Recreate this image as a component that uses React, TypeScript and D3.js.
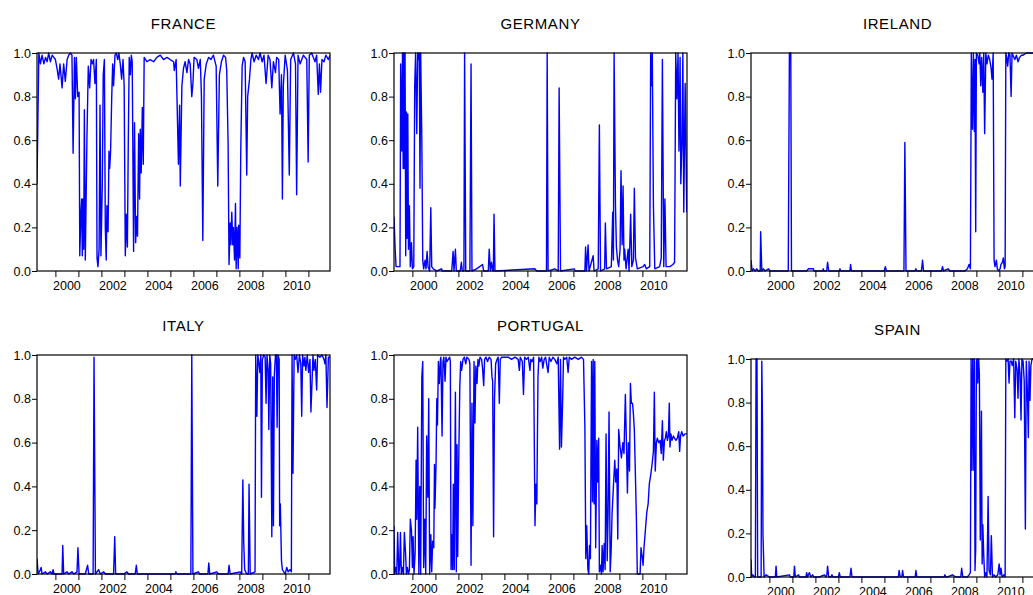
import React, { useRef, useEffect } from 'react'
import * as d3 from 'd3'

type Pt = [number, number] // [decimal year, probability]

// smoothed regime probabilities
const FRANCE: Pt[] = [
  [1999.2, 0.4], [1999.28, 1.0], [1999.35, 0.95], [1999.42, 0.99], [1999.5, 0.95], [1999.57, 0.98],
  [1999.64, 0.96], [1999.71, 1.0], [1999.78, 0.96], [1999.86, 0.99], [2000.0, 0.97], [2000.07, 0.93],
  [2000.14, 0.88], [2000.2, 0.95], [2000.29, 0.84], [2000.36, 0.95], [2000.43, 0.87], [2000.51, 0.97],
  [2000.58, 0.99], [2000.65, 1.0], [2000.72, 0.99], [2000.77, 0.54], [2000.83, 0.98], [2000.87, 0.79],
  [2000.91, 0.98], [2000.97, 0.8], [2001.03, 0.82], [2001.06, 0.07], [2001.11, 0.27], [2001.14, 0.33],
  [2001.17, 0.07], [2001.2, 0.33], [2001.23, 0.1], [2001.26, 0.74], [2001.3, 0.05], [2001.37, 0.6],
  [2001.43, 0.94], [2001.49, 0.84], [2001.55, 0.97], [2001.61, 0.95], [2001.66, 0.97], [2001.72, 0.86],
  [2001.78, 0.97], [2001.81, 0.06], [2001.85, 0.02], [2001.9, 0.1], [2001.94, 0.76], [2001.98, 0.07],
  [2002.04, 0.4], [2002.08, 0.9], [2002.13, 0.97], [2002.17, 0.2], [2002.21, 0.05], [2002.24, 0.3],
  [2002.29, 0.18], [2002.33, 0.55], [2002.36, 0.47], [2002.4, 0.55], [2002.45, 0.8], [2002.49, 0.95],
  [2002.53, 0.85], [2002.59, 0.99], [2002.65, 1.0], [2002.71, 0.97], [2002.76, 1.0], [2002.82, 0.95],
  [2002.88, 0.88], [2002.94, 0.97], [2002.99, 0.85], [2003.04, 0.07], [2003.08, 0.26], [2003.13, 0.11],
  [2003.17, 0.6], [2003.21, 0.98], [2003.26, 0.9], [2003.3, 0.99], [2003.34, 0.96], [2003.4, 0.09],
  [2003.44, 0.68], [2003.49, 0.13], [2003.53, 0.25], [2003.57, 0.16], [2003.62, 0.63], [2003.66, 0.33],
  [2003.69, 0.65], [2003.73, 0.45], [2003.78, 0.75], [2003.82, 0.49], [2003.86, 0.98], [2003.98, 0.96],
  [2004.12, 0.97], [2004.27, 0.96], [2004.41, 0.98], [2004.56, 0.99], [2004.7, 0.97], [2004.85, 0.98],
  [2004.99, 0.97], [2005.14, 0.96], [2005.17, 0.92], [2005.25, 0.97], [2005.35, 0.49], [2005.4, 0.76],
  [2005.43, 0.39], [2005.5, 0.85], [2005.57, 0.93], [2005.64, 0.96], [2005.72, 0.91], [2005.79, 0.97],
  [2005.86, 0.95], [2005.93, 0.8], [2005.98, 0.86], [2006.03, 0.98], [2006.15, 0.97], [2006.22, 0.93],
  [2006.3, 0.97], [2006.35, 0.8], [2006.41, 0.14], [2006.47, 0.88], [2006.56, 0.95], [2006.66, 0.98],
  [2006.76, 0.97], [2006.87, 0.99], [2006.99, 0.94], [2007.06, 0.39], [2007.13, 0.9], [2007.22, 0.96],
  [2007.31, 0.99], [2007.4, 0.98], [2007.45, 0.92], [2007.51, 0.58], [2007.55, 0.03], [2007.6, 0.22],
  [2007.63, 0.12], [2007.67, 0.27], [2007.71, 0.12], [2007.74, 0.2], [2007.79, 0.05], [2007.83, 0.31],
  [2007.86, 0.01], [2007.9, 0.2], [2007.95, 0.01], [2007.97, 0.21], [2008.02, 0.06], [2008.06, 0.55],
  [2008.12, 0.94], [2008.18, 0.98], [2008.25, 0.96], [2008.32, 0.44], [2008.36, 0.8], [2008.44, 0.88],
  [2008.5, 0.97], [2008.55, 1.0], [2008.64, 0.96], [2008.73, 0.99], [2008.83, 0.97], [2008.9, 1.0],
  [2008.99, 0.96], [2009.07, 0.99], [2009.16, 0.86], [2009.25, 0.99], [2009.33, 0.97], [2009.41, 0.84],
  [2009.48, 0.96], [2009.57, 0.91], [2009.62, 0.98], [2009.71, 0.97], [2009.77, 0.72], [2009.83, 0.9],
  [2009.87, 0.33], [2009.91, 0.85], [2009.99, 0.99], [2010.09, 0.92], [2010.17, 0.44], [2010.23, 0.97],
  [2010.35, 1.0], [2010.44, 0.95], [2010.49, 0.35], [2010.55, 0.99], [2010.64, 0.95], [2010.78, 0.99],
  [2010.93, 0.97], [2010.99, 0.5], [2011.04, 0.99], [2011.14, 1.0], [2011.29, 0.96], [2011.36, 0.99],
  [2011.43, 0.81], [2011.48, 0.95], [2011.53, 0.82], [2011.59, 0.97], [2011.68, 0.96], [2011.76, 0.99],
  [2011.87, 0.97], [2011.94, 0.99],
]

const GERMANY: Pt[] = [
  [1999.2, 0.25], [1999.25, 0.1], [1999.29, 0.02], [1999.39, 0.02], [1999.46, 0.02], [1999.49, 0.95],
  [1999.54, 0.55], [1999.57, 1.0], [1999.6, 0.47], [1999.62, 1.0], [1999.65, 0.47], [1999.68, 1.0],
  [1999.71, 0.07], [1999.74, 0.73], [1999.77, 0.15], [1999.8, 0.72], [1999.83, 0.1], [1999.87, 0.3],
  [1999.91, 0.02], [1999.96, 0.13], [2000.0, 0.01], [2000.06, 0.02], [2000.1, 0.85], [2000.14, 1.0],
  [2000.19, 0.63], [2000.23, 1.0], [2000.26, 0.97], [2000.3, 1.0], [2000.33, 0.38], [2000.36, 1.0],
  [2000.41, 0.6], [2000.45, 0.05], [2000.49, 0.01], [2000.55, 0.05], [2000.59, 0.01], [2000.64, 0.09],
  [2000.68, 0.02], [2000.75, 0.0], [2000.8, 0.29], [2000.84, 0.02], [2000.91, 0.01], [2001.06, 0.0],
  [2001.27, 0.01], [2001.3, 0.0], [2001.71, 0.0], [2001.77, 0.09], [2001.81, 0.0], [2001.87, 0.1],
  [2001.91, 0.0], [2002.08, 0.0], [2002.13, 0.04], [2002.17, 0.0], [2002.24, 0.0], [2002.27, 1.0],
  [2002.32, 0.0], [2002.5, 0.0], [2002.55, 0.95], [2002.59, 0.0], [2002.79, 0.01], [2003.05, 0.03],
  [2003.1, 0.0], [2003.3, 0.0], [2003.34, 0.1], [2003.39, 0.0], [2003.44, 0.04], [2003.49, 0.0],
  [2003.52, 0.0], [2003.55, 0.26], [2003.59, 0.0], [2005.33, 0.01], [2005.4, 0.0], [2005.83, 0.0],
  [2005.86, 1.0], [2005.9, 0.0], [2006.19, 0.01], [2006.34, 0.0], [2006.38, 0.84], [2006.44, 0.0],
  [2007.03, 0.01], [2007.09, 0.0], [2007.5, 0.0], [2007.53, 0.11], [2007.57, 0.0], [2007.64, 0.12],
  [2007.68, 0.0], [2007.86, 0.07], [2007.9, 0.0], [2008.08, 0.01], [2008.13, 0.67], [2008.18, 0.0],
  [2008.36, 0.01], [2008.39, 0.22], [2008.44, 0.01], [2008.65, 0.02], [2008.71, 0.27], [2008.74, 0.05],
  [2008.77, 1.0], [2008.83, 0.3], [2008.87, 0.11], [2008.92, 0.05], [2008.97, 0.02], [2009.03, 0.1],
  [2009.07, 0.46], [2009.12, 0.12], [2009.16, 0.39], [2009.2, 0.05], [2009.23, 0.1], [2009.29, 0.01],
  [2009.38, 0.1], [2009.42, 0.0], [2009.49, 0.26], [2009.54, 0.02], [2009.61, 0.05], [2009.65, 0.38],
  [2009.7, 0.06], [2009.78, 0.01], [2010.03, 0.02], [2010.1, 0.03], [2010.17, 0.01], [2010.32, 0.02],
  [2010.36, 1.0], [2010.39, 0.85], [2010.43, 1.0], [2010.48, 0.3], [2010.54, 0.01], [2010.75, 0.02],
  [2010.82, 0.06], [2010.87, 0.97], [2010.93, 0.02], [2010.98, 0.33], [2011.03, 0.02], [2011.19, 0.02],
  [2011.33, 0.03], [2011.4, 0.04], [2011.45, 1.0], [2011.5, 0.79], [2011.55, 1.0], [2011.59, 0.55],
  [2011.64, 0.98], [2011.67, 0.4], [2011.72, 0.58], [2011.76, 1.0], [2011.8, 0.27], [2011.86, 0.86],
  [2011.93, 0.27],
]

const IRELAND: Pt[] = [
  [1999.2, 0.05], [1999.25, 0.0], [1999.31, 0.01], [1999.38, 0.0], [1999.45, 0.01], [1999.52, 0.0],
  [1999.6, 0.0], [1999.62, 0.18], [1999.67, 0.0], [1999.74, 0.01], [1999.81, 0.0], [1999.96, 0.01],
  [2000.03, 0.0], [2000.82, 0.0], [2000.87, 1.0], [2000.93, 1.0], [2000.96, 0.0], [2001.62, 0.0],
  [2001.69, 0.01], [2001.91, 0.01], [2001.94, 0.0], [2002.32, 0.0], [2002.34, 0.01], [2002.37, 0.0],
  [2002.49, 0.0], [2002.53, 0.04], [2002.58, 0.0], [2003.04, 0.0], [2003.07, 0.01], [2003.1, 0.0],
  [2003.5, 0.0], [2003.53, 0.03], [2003.57, 0.0], [2004.99, 0.0], [2005.04, 0.02], [2005.09, 0.0],
  [2005.85, 0.0], [2005.89, 0.59], [2005.94, 0.0], [2006.33, 0.0], [2006.37, 0.01], [2006.4, 0.0],
  [2006.61, 0.0], [2006.66, 0.05], [2006.7, 0.0], [2007.48, 0.0], [2007.53, 0.02], [2007.57, 0.0],
  [2007.77, 0.01], [2007.85, 0.0], [2008.42, 0.0], [2008.5, 0.0], [2008.61, 0.01], [2008.68, 0.03],
  [2008.74, 0.01], [2008.78, 1.0], [2008.83, 0.65], [2008.87, 1.0], [2008.91, 0.64], [2008.94, 0.97],
  [2008.97, 0.18], [2009.0, 1.0], [2009.06, 0.99], [2009.12, 0.95], [2009.15, 1.0], [2009.19, 0.85],
  [2009.23, 0.98], [2009.28, 0.82], [2009.32, 1.0], [2009.36, 0.63], [2009.41, 1.0], [2009.46, 0.95],
  [2009.52, 0.99], [2009.58, 0.97], [2009.64, 0.93], [2009.68, 0.88], [2009.73, 1.0], [2009.77, 0.05],
  [2009.81, 0.02], [2009.87, 0.05], [2009.91, 0.01], [2009.97, 0.0], [2010.03, 0.01], [2010.07, 0.03],
  [2010.13, 0.04], [2010.17, 0.06], [2010.22, 0.01], [2010.25, 0.02], [2010.28, 1.0], [2010.32, 0.98],
  [2010.36, 0.94], [2010.41, 1.0], [2010.46, 0.99], [2010.51, 0.8], [2010.55, 1.0], [2010.67, 0.97],
  [2010.74, 0.99], [2010.81, 0.96], [2010.88, 0.98], [2010.96, 0.99], [2011.03, 0.99], [2011.17, 1.0],
  [2011.32, 1.0], [2011.46, 1.0], [2011.94, 1.0],
]

const ITALY: Pt[] = [
  [1999.2, 0.07], [1999.25, 0.0], [1999.35, 0.02], [1999.38, 0.03], [1999.42, 0.0], [1999.57, 0.01],
  [1999.64, 0.0], [1999.78, 0.01], [1999.86, 0.0], [1999.9, 0.02], [1999.94, 0.0], [2000.14, 0.0],
  [2000.29, 0.0], [2000.32, 0.13], [2000.36, 0.0], [2000.51, 0.01], [2000.58, 0.0], [2000.72, 0.01],
  [2000.8, 0.0], [2000.94, 0.01], [2000.98, 0.12], [2001.03, 0.0], [2001.3, 0.0], [2001.4, 0.04],
  [2001.45, 0.0], [2001.64, 0.0], [2001.68, 0.99], [2001.74, 0.0], [2001.88, 0.02], [2001.95, 0.0],
  [2002.1, 0.01], [2002.17, 0.0], [2002.53, 0.0], [2002.58, 0.17], [2002.62, 0.0], [2002.97, 0.0],
  [2003.11, 0.01], [2003.18, 0.0], [2003.47, 0.0], [2003.52, 0.04], [2003.56, 0.0], [2005.21, 0.0],
  [2005.24, 0.01], [2005.28, 0.0], [2005.89, 0.0], [2005.93, 1.0], [2005.98, 0.0], [2006.22, 0.01],
  [2006.27, 0.0], [2006.63, 0.0], [2006.67, 0.05], [2006.71, 0.0], [2007.02, 0.01], [2007.09, 0.0],
  [2007.51, 0.0], [2007.55, 0.04], [2007.6, 0.0], [2008.03, 0.01], [2008.1, 0.0], [2008.15, 0.43],
  [2008.19, 0.14], [2008.23, 0.02], [2008.32, 0.0], [2008.39, 0.0], [2008.42, 0.41], [2008.47, 0.0],
  [2008.68, 0.01], [2008.71, 1.0], [2008.76, 0.72], [2008.8, 1.0], [2008.84, 0.97], [2008.89, 0.92],
  [2008.93, 1.0], [2008.96, 0.35], [2009.0, 0.98], [2009.06, 1.0], [2009.12, 0.99], [2009.16, 0.78],
  [2009.2, 1.0], [2009.25, 0.93], [2009.28, 0.66], [2009.32, 1.0], [2009.36, 0.96], [2009.41, 0.17],
  [2009.45, 0.9], [2009.48, 0.22], [2009.52, 0.91], [2009.57, 1.0], [2009.61, 1.0], [2009.64, 0.67],
  [2009.68, 1.0], [2009.73, 0.98], [2009.75, 0.22], [2009.78, 0.32], [2009.83, 0.06], [2009.87, 0.02],
  [2009.99, 0.0], [2010.06, 0.03], [2010.12, 0.01], [2010.2, 0.02], [2010.26, 0.01], [2010.29, 1.0],
  [2010.33, 0.46], [2010.38, 1.0], [2010.43, 0.98], [2010.49, 1.0], [2010.55, 0.92], [2010.61, 1.0],
  [2010.67, 0.96], [2010.71, 0.72], [2010.75, 1.0], [2010.81, 0.95], [2010.85, 0.99], [2010.89, 0.93],
  [2010.95, 1.0], [2011.01, 0.92], [2011.07, 0.98], [2011.11, 0.74], [2011.16, 0.88], [2011.2, 1.0],
  [2011.24, 0.93], [2011.3, 0.98], [2011.36, 0.84], [2011.4, 1.0], [2011.5, 0.99], [2011.59, 1.0],
  [2011.68, 0.98], [2011.72, 0.96], [2011.76, 1.0], [2011.81, 0.76], [2011.87, 0.99], [2011.94, 0.99],
]

const PORTUGAL: Pt[] = [
  [1999.2, 0.22], [1999.23, 0.0], [1999.28, 0.03], [1999.32, 0.0], [1999.36, 0.19], [1999.41, 0.0],
  [1999.45, 0.04], [1999.48, 0.19], [1999.52, 0.0], [1999.57, 0.03], [1999.61, 0.0], [1999.65, 0.19],
  [1999.7, 0.1], [1999.74, 0.0], [1999.78, 0.03], [1999.83, 0.0], [1999.87, 0.02], [1999.91, 0.25],
  [1999.96, 0.2], [2000.0, 0.03], [2000.03, 0.17], [2000.07, 0.0], [2000.12, 0.1], [2000.16, 0.52],
  [2000.19, 0.25], [2000.23, 0.67], [2000.28, 0.0], [2000.32, 0.4], [2000.36, 0.0], [2000.41, 0.9],
  [2000.45, 0.97], [2000.49, 0.03], [2000.54, 0.25], [2000.58, 0.0], [2000.62, 0.63], [2000.67, 0.35],
  [2000.71, 0.8], [2000.75, 0.0], [2000.8, 0.18], [2000.84, 0.01], [2000.88, 0.15], [2000.93, 0.12],
  [2000.96, 0.5], [2000.98, 0.3], [2001.03, 0.51], [2001.06, 0.8], [2001.09, 0.68], [2001.13, 0.97],
  [2001.17, 0.87], [2001.22, 0.98], [2001.24, 0.99], [2001.29, 0.63], [2001.33, 0.97], [2001.37, 0.99],
  [2001.42, 0.88], [2001.46, 0.99], [2001.5, 0.97], [2001.56, 0.98], [2001.62, 0.99], [2001.65, 0.97],
  [2001.68, 0.02], [2001.71, 0.18], [2001.75, 0.02], [2001.78, 0.41], [2001.82, 0.02], [2001.87, 0.83],
  [2001.91, 0.01], [2001.94, 0.59], [2001.97, 0.08], [2002.01, 0.48], [2002.06, 0.85], [2002.1, 0.97],
  [2002.14, 0.93], [2002.2, 0.98], [2002.26, 0.99], [2002.32, 0.96], [2002.37, 0.99], [2002.46, 0.98],
  [2002.5, 0.96], [2002.55, 0.04], [2002.59, 0.78], [2002.63, 0.22], [2002.68, 0.97], [2002.72, 0.69],
  [2002.76, 0.95], [2002.81, 0.87], [2002.85, 0.98], [2002.89, 0.95], [2002.94, 0.99], [2003.01, 0.98],
  [2003.05, 0.94], [2003.1, 0.86], [2003.14, 0.98], [2003.2, 0.99], [2003.27, 0.97], [2003.34, 0.99],
  [2003.42, 0.98], [2003.46, 0.9], [2003.49, 0.88], [2003.53, 0.17], [2003.57, 0.8], [2003.62, 0.96],
  [2003.68, 0.98], [2003.73, 0.99], [2003.78, 0.78], [2003.82, 0.98], [2003.88, 0.99], [2004.02, 0.99],
  [2004.17, 0.99], [2004.31, 0.98], [2004.46, 0.99], [2004.6, 0.98], [2004.65, 0.93], [2004.69, 0.99],
  [2004.78, 0.97], [2004.83, 0.82], [2004.88, 0.99], [2004.96, 0.98], [2005.04, 0.99], [2005.11, 0.93],
  [2005.15, 0.98], [2005.21, 0.97], [2005.27, 0.99], [2005.33, 0.22], [2005.37, 0.41], [2005.41, 0.32],
  [2005.46, 0.9], [2005.5, 0.99], [2005.56, 0.97], [2005.62, 0.99], [2005.67, 0.94], [2005.73, 0.98],
  [2005.79, 0.99], [2005.85, 0.95], [2005.9, 0.92], [2005.95, 0.99], [2006.02, 0.97], [2006.11, 0.99],
  [2006.19, 0.98], [2006.28, 0.96], [2006.34, 0.99], [2006.4, 0.57], [2006.44, 0.98], [2006.48, 0.58],
  [2006.53, 0.78], [2006.57, 0.99], [2006.63, 0.98], [2006.71, 0.99], [2006.77, 0.92], [2006.82, 0.99],
  [2006.92, 0.98], [2007.06, 0.99], [2007.21, 0.98], [2007.35, 0.99], [2007.44, 0.98], [2007.5, 0.67],
  [2007.54, 0.07], [2007.58, 0.22], [2007.63, 0.02], [2007.67, 0.0], [2007.7, 0.13], [2007.74, 0.07],
  [2007.79, 0.97], [2007.83, 0.33], [2007.86, 0.98], [2007.9, 0.32], [2007.93, 0.97], [2007.97, 0.12],
  [2008.02, 0.61], [2008.06, 0.42], [2008.1, 0.62], [2008.13, 0.01], [2008.18, 0.04], [2008.22, 0.0],
  [2008.25, 0.13], [2008.29, 0.01], [2008.34, 0.14], [2008.38, 0.02], [2008.42, 0.64], [2008.47, 0.06],
  [2008.51, 0.28], [2008.55, 0.74], [2008.6, 0.01], [2008.64, 0.1], [2008.68, 0.27], [2008.74, 0.4],
  [2008.8, 0.52], [2008.84, 0.42], [2008.89, 0.48], [2008.93, 0.16], [2008.97, 0.66], [2009.03, 0.58],
  [2009.09, 0.53], [2009.15, 0.6], [2009.2, 0.55], [2009.26, 0.82], [2009.3, 0.63], [2009.35, 0.37],
  [2009.39, 0.6], [2009.44, 0.47], [2009.48, 0.87], [2009.52, 0.78], [2009.57, 0.78], [2009.61, 0.73],
  [2009.65, 0.66], [2009.71, 0.39], [2009.74, 0.25], [2009.78, 0.0], [2009.84, 0.0], [2009.9, 0.0],
  [2009.94, 0.12], [2009.99, 0.08], [2010.03, 0.04], [2010.07, 0.12], [2010.13, 0.2], [2010.19, 0.28],
  [2010.25, 0.32], [2010.3, 0.41], [2010.36, 0.45], [2010.42, 0.5], [2010.48, 0.56], [2010.52, 0.83],
  [2010.56, 0.47], [2010.61, 0.6], [2010.65, 0.62], [2010.71, 0.6], [2010.77, 0.61], [2010.82, 0.55],
  [2010.87, 0.7], [2010.91, 0.52], [2010.96, 0.61], [2011.0, 0.62], [2011.04, 0.65], [2011.09, 0.61],
  [2011.13, 0.63], [2011.17, 0.78], [2011.2, 0.58], [2011.24, 0.64], [2011.29, 0.61], [2011.35, 0.63],
  [2011.4, 0.62], [2011.46, 0.61], [2011.52, 0.62], [2011.58, 0.65], [2011.62, 0.56], [2011.66, 0.63],
  [2011.71, 0.65], [2011.77, 0.63], [2011.86, 0.64], [2011.93, 0.64],
]

const SPAIN: Pt[] = [
  [1999.2, 0.08], [1999.23, 0.0], [1999.28, 0.01], [1999.35, 0.0], [1999.39, 0.0], [1999.42, 1.0],
  [1999.46, 1.0], [1999.49, 0.0], [1999.57, 0.0], [1999.64, 0.0], [1999.67, 0.99], [1999.7, 0.7],
  [1999.72, 0.2], [1999.77, 0.0], [1999.86, 0.01], [2000.0, 0.0], [2000.26, 0.0], [2000.29, 0.05],
  [2000.32, 0.0], [2000.87, 0.01], [2000.91, 0.0], [2001.06, 0.0], [2001.09, 0.05], [2001.13, 0.0],
  [2001.27, 0.01], [2001.3, 0.0], [2001.59, 0.0], [2001.62, 0.02], [2001.66, 0.0], [2001.74, 0.02],
  [2001.77, 0.01], [2001.81, 0.0], [2001.88, 0.01], [2001.93, 0.0], [2002.17, 0.0], [2002.39, 0.01],
  [2002.46, 0.0], [2002.5, 0.01], [2002.53, 0.05], [2002.58, 0.0], [2002.68, 0.0], [2002.72, 0.01],
  [2002.76, 0.0], [2003.0, 0.0], [2003.04, 0.02], [2003.08, 0.0], [2003.5, 0.0], [2003.55, 0.04],
  [2003.59, 0.0], [2005.61, 0.0], [2005.64, 0.03], [2005.69, 0.0], [2005.76, 0.0], [2005.79, 0.03],
  [2005.83, 0.0], [2006.34, 0.0], [2006.37, 0.03], [2006.41, 0.0], [2007.6, 0.0], [2007.63, 0.01],
  [2007.67, 0.0], [2007.74, 0.0], [2007.96, 0.01], [2008.1, 0.0], [2008.32, 0.0], [2008.36, 0.04],
  [2008.41, 0.0], [2008.61, 0.0], [2008.68, 0.01], [2008.74, 0.02], [2008.77, 1.0], [2008.81, 0.49],
  [2008.84, 1.0], [2008.89, 0.49], [2008.91, 1.0], [2008.94, 0.03], [2008.97, 0.13], [2009.0, 0.99],
  [2009.03, 1.0], [2009.06, 0.89], [2009.1, 1.0], [2009.13, 0.93], [2009.17, 0.17], [2009.22, 0.76],
  [2009.25, 0.06], [2009.28, 0.24], [2009.32, 0.1], [2009.36, 0.0], [2009.41, 0.02], [2009.46, 0.0],
  [2009.51, 0.37], [2009.55, 0.03], [2009.61, 0.01], [2009.65, 0.19], [2009.7, 0.0], [2009.77, 0.01],
  [2009.84, 0.0], [2009.93, 0.01], [2009.99, 0.06], [2010.03, 0.01], [2010.07, 0.04], [2010.12, 0.0],
  [2010.2, 0.01], [2010.25, 0.0], [2010.28, 1.0], [2010.32, 0.99], [2010.38, 1.0], [2010.42, 0.89],
  [2010.46, 0.99], [2010.52, 0.99], [2010.56, 0.97], [2010.62, 1.0], [2010.67, 0.73], [2010.71, 0.99],
  [2010.77, 0.95], [2010.81, 0.82], [2010.85, 1.0], [2010.9, 0.93], [2010.94, 0.72], [2010.98, 1.0],
  [2011.03, 0.99], [2011.08, 0.9], [2011.13, 0.22], [2011.17, 0.99], [2011.22, 0.84], [2011.26, 0.64],
  [2011.29, 0.99], [2011.33, 0.81], [2011.37, 0.97], [2011.42, 1.0], [2011.94, 1.0],
]

const COUNTRIES = ['FRANCE', 'GERMANY', 'IRELAND', 'ITALY', 'PORTUGAL', 'SPAIN']
const SERIES: Pt[][] = [FRANCE, GERMANY, IRELAND, ITALY, PORTUGAL, SPAIN]
const Y_TICKS = [0, 0.2, 0.4, 0.6, 0.8, 1.0]
const YEAR_TICKS = [2000, 2001, 2002, 2003, 2004, 2005, 2006, 2007, 2008, 2009, 2010, 2011]
const YEAR_LABELS = [2000, 2002, 2004, 2006, 2008, 2010]
const X_DOMAIN: [number, number] = [1999.2, 2011.94]

// plot boxes (left, top, bottom) for the 3x2 grid
const BOXES = [
  { left: 37, top: 53, bottom: 271 },
  { left: 394, top: 53, bottom: 271 },
  { left: 751, top: 53, bottom: 271 },
  { left: 37, top: 355, bottom: 574 },
  { left: 394, top: 355, bottom: 574 },
  { left: 751, top: 359, bottom: 577 },
]
const PLOT_W = 293
const FONT = '"Liberation Sans", Arial, Helvetica, sans-serif'

const App = () => {
  const svgRef = useRef<SVGSVGElement>(null)

  useEffect(() => {
    const svg = d3.select(svgRef.current)
    svg.selectAll('*').remove()

    COUNTRIES.forEach((name, i) => {
      const box = BOXES[i]
      const data = SERIES[i]
      const g = svg.append('g')

      const x = d3.scaleLinear().domain(X_DOMAIN).range([box.left, box.left + PLOT_W])
      const y = d3.scaleLinear().domain([0, 1]).range([box.bottom, box.top])

      // clip so the line never spills over the frame
      const clipId = `clip-${i}`
      svg.append('clipPath').attr('id', clipId)
        .append('rect')
        .attr('x', box.left).attr('y', box.top - 1)
        .attr('width', PLOT_W).attr('height', box.bottom - box.top + 2)

      const line = d3.line<Pt>().x(d => x(d[0])).y(d => y(d[1]))
      g.append('path')
        .datum(data)
        .attr('d', line)
        .attr('fill', 'none')
        .attr('stroke', '#0000ff')
        .attr('stroke-width', 1.4)
        .attr('stroke-linejoin', 'round')
        .attr('clip-path', `url(#${clipId})`)

      // frame
      g.append('rect')
        .attr('x', box.left).attr('y', box.top)
        .attr('width', PLOT_W).attr('height', box.bottom - box.top)
        .attr('fill', 'none').attr('stroke', '#000').attr('stroke-width', 1.2)

      // y axis
      const yAxis = d3.axisLeft(y).tickValues(Y_TICKS).tickFormat(d3.format('.1f')).tickSize(5).tickPadding(1)
      const ya = g.append('g').attr('transform', `translate(${box.left},0)`).call(yAxis)
      ya.select('.domain').remove()
      ya.selectAll('text').attr('font-family', FONT).attr('font-size', 12.5).attr('fill', '#000')

      // x axis: year ticks, labels centred in their year
      const xAxis = d3.axisBottom(x).tickValues(YEAR_TICKS).tickSize(6).tickFormat(() => '')
      const xa = g.append('g').attr('transform', `translate(0,${box.bottom})`).call(xAxis)
      xa.select('.domain').remove()

      g.selectAll('text.yr')
        .data(YEAR_LABELS)
        .join('text')
        .attr('class', 'yr')
        .attr('x', d => x(d + 0.5))
        .attr('y', box.bottom + 18.5)
        .attr('text-anchor', 'middle')
        .attr('font-family', FONT)
        .attr('font-size', 12.5)
        .attr('fill', '#000')
        .text(d => String(d))

      // title
      g.append('text')
        .attr('x', box.left + PLOT_W / 2)
        .attr('y', box.top - 24.5)
        .attr('text-anchor', 'middle')
        .attr('font-family', FONT)
        .attr('font-size', 15)
        .attr('letter-spacing', 0.6)
        .attr('fill', '#000')
        .text(name)
    })
  }, [])

  return (
    <svg
      ref={svgRef}
      width={1033}
      height={595}
      style={{ position: 'absolute', left: 0, top: 0, background: '#fff' }}
    />
  )
}

export default App
